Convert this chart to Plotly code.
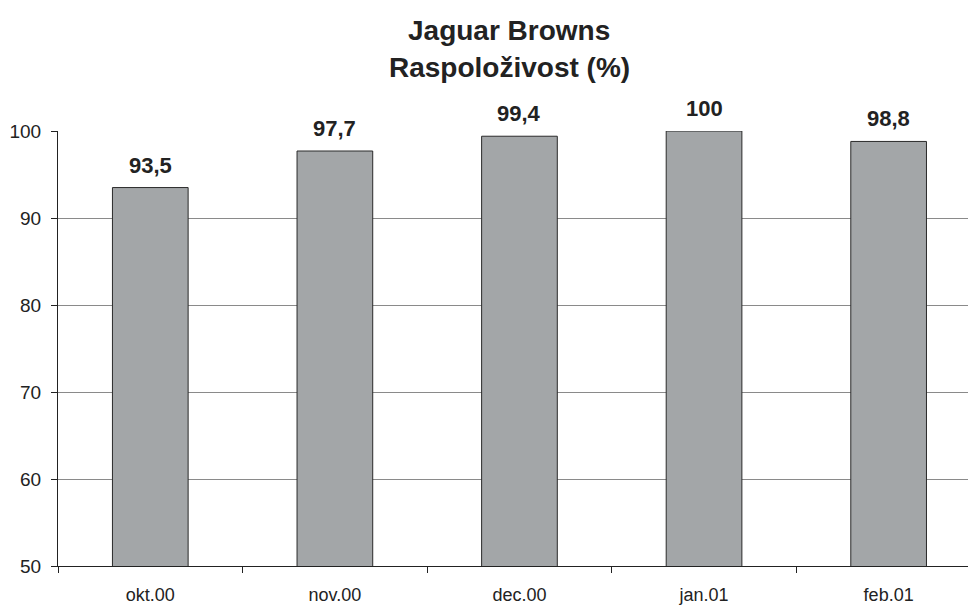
import plotly.graph_objects as go

categories = ["okt.00", "nov.00", "dec.00", "jan.01", "feb.01"]
values = [93.5, 97.7, 99.4, 100, 98.8]
y_ticks = [50, 60, 70, 80, 90, 100]
title_lines = ["Jaguar Browns", "Raspoloživost (%)"]

def fmt(v):
    s = ("%g" % v)
    return s.replace(".", ",")

fig = go.Figure()
fig.add_trace(go.Bar(
    x=categories, y=values, width=0.41,
    marker=dict(color="#a3a6a8", line=dict(color="#2a2a2a", width=1)),
    hoverinfo="skip",
))

for c, v in zip(categories, values):
    fig.add_annotation(x=c, y=v, text="<b>" + fmt(v) + "</b>", showarrow=False, yanchor="bottom",
                       yshift=8, font=dict(family="Arial, Liberation Sans", size=22, color="#222222"),
                       xref="x", yref="y")

for line, yp in zip(title_lines, [1.232, 1.146]):
    fig.add_annotation(x=(509 - 58) / 910, y=yp, xref="paper", yref="paper", text="<b>" + line + "</b>",
                       showarrow=False, xanchor="center", yanchor="middle",
                       font=dict(family="Arial, Liberation Sans", size=28, color="#222222"))

fig.update_layout(
    width=968, height=605,
    margin=dict(l=58, r=0, t=131, b=39),
    paper_bgcolor="white", plot_bgcolor="white",
    showlegend=False,
    font=dict(family="Arial, Liberation Sans", color="#222222"),
)

fig.update_xaxes(
    range=[-0.5, 4.43], showline=True, linecolor="#222222", linewidth=1,
    ticks="outside", tickson="boundaries", ticklen=6, tickcolor="#222222",
    tickfont=dict(size=18, color="#222222"), showgrid=False, zeroline=False,
    ticklabelstandoff=12,
)
fig.update_yaxes(
    range=[50, 100], tickvals=y_ticks, showline=True, linecolor="#222222", linewidth=1,
    ticks="outside", ticklen=6, tickcolor="#222222",
    tickfont=dict(size=19, color="#222222"), showgrid=True, gridcolor="#8a8a8a", gridwidth=1,
    zeroline=False, ticklabelstandoff=6,
)

fig.write_html("out.html")
